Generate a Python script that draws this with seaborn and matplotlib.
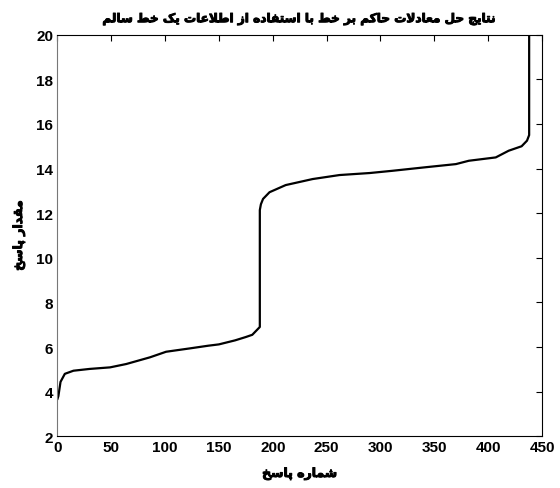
import pandas as pd
import seaborn as sns
import matplotlib.pyplot as plt
import matplotlib.patheffects as pe

# Breakpoints of the sorted response curve
resp_no = [0, 1, 3, 7, 15, 30, 49, 64, 86, 101, 123, 140, 150, 165, 175, 181, 185, 188,
           188, 189, 191, 197, 212, 237, 262, 290, 311, 342, 370, 382, 407, 419, 431, 436,
           438, 438]
resp_val = [3.65, 3.8, 4.44, 4.8, 4.94, 5.02, 5.09, 5.24, 5.54, 5.79, 5.94, 6.06, 6.12, 6.3, 6.45, 6.55, 6.75, 6.9,
            12.14, 12.4, 12.64, 12.94, 13.26, 13.53, 13.71, 13.8, 13.9, 14.06, 14.2, 14.35, 14.5, 14.8, 15.0, 15.25,
            15.5, 22.0]

x_ticks = [0, 50, 100, 150, 200, 250, 300, 350, 400, 450]
y_ticks = [2, 4, 6, 8, 10, 12, 14, 16, 18, 20]

title_text = "نتایج حل معادلات حاکم بر خط با استفاده از اطلاعات یک خط سالم"
xlabel_text = "شماره پاسخ"
ylabel_text = "مقدار پاسخ"

# matplotlib has no Arabic shaping, so pick presentation forms by hand
# forms: (isolated, final, initial, medial); right-joining letters only have two
FORMS = {
    "ا": (0xFE8D, 0xFE8E), "د": (0xFEA9, 0xFEAA), "ر": (0xFEAD, 0xFEAE), "ز": (0xFEAF, 0xFEB0),
    "ب": (0xFE8F, 0xFE90, 0xFE91, 0xFE92), "پ": (0xFB56, 0xFB57, 0xFB58, 0xFB59),
    "ت": (0xFE95, 0xFE96, 0xFE97, 0xFE98), "ج": (0xFE9D, 0xFE9E, 0xFE9F, 0xFEA0),
    "ح": (0xFEA1, 0xFEA2, 0xFEA3, 0xFEA4), "خ": (0xFEA5, 0xFEA6, 0xFEA7, 0xFEA8),
    "س": (0xFEB1, 0xFEB2, 0xFEB3, 0xFEB4), "ش": (0xFEB5, 0xFEB6, 0xFEB7, 0xFEB8),
    "ط": (0xFEC1, 0xFEC2, 0xFEC3, 0xFEC4), "ع": (0xFEC9, 0xFECA, 0xFECB, 0xFECC),
    "ف": (0xFED1, 0xFED2, 0xFED3, 0xFED4), "ق": (0xFED5, 0xFED6, 0xFED7, 0xFED8),
    "ک": (0xFB8E, 0xFB8F, 0xFB90, 0xFB91), "ل": (0xFEDD, 0xFEDE, 0xFEDF, 0xFEE0),
    "م": (0xFEE1, 0xFEE2, 0xFEE3, 0xFEE4), "ن": (0xFEE5, 0xFEE6, 0xFEE7, 0xFEE8),
    "ه": (0xFEE9, 0xFEEA, 0xFEEB, 0xFEEC), "ی": (0xFBFC, 0xFBFD, 0xFBFE, 0xFBFF),
}


def dual(c):
    return c in FORMS and len(FORMS[c]) == 4


def shape(text):
    out = []
    i = 0
    while i < len(text):
        c = text[i]
        prev = text[i - 1] if i > 0 else " "
        joins_prev = dual(prev) and c in FORMS
        if c == "ل" and i + 1 < len(text) and text[i + 1] == "ا":
            out.append(chr(0xFEFC if joins_prev else 0xFEFB))
            i += 2
            continue
        if c not in FORMS:
            out.append(c)
            i += 1
            continue
        nxt = text[i + 1] if i + 1 < len(text) else " "
        joins_next = dual(c) and nxt in FORMS
        f = FORMS[c]
        if joins_prev and joins_next:
            out.append(chr(f[3]))
        elif joins_prev:
            out.append(chr(f[1]))
        elif joins_next:
            out.append(chr(f[2]))
        else:
            out.append(chr(f[0]))
        i += 1
    return "".join(reversed(out))


sns.set_style("white")
plt.rcParams["font.family"] = ["Liberation Sans", "DejaVu Sans"]
plt.rcParams["font.weight"] = "bold"

df = pd.DataFrame({"n": resp_no, "v": resp_val})

fig = plt.figure(figsize=(5.6, 4.89), dpi=100)
ax = fig.add_axes([0.1023, 0.1057, 0.8657, 0.8213])
sns.lineplot(data=df, x="n", y="v", sort=False, estimator=None, errorbar=None,
             color="black", linewidth=1.6, ax=ax)

ax.set_xlim(0, 450)
ax.set_ylim(2, 20)
ax.set_xticks(x_ticks)
ax.set_yticks(y_ticks)
ax.tick_params(direction="in", length=4, width=0.8, top=True, right=True,
               labelsize=11, pad=3, colors="black")
for lab in ax.get_xticklabels() + ax.get_yticklabels():
    lab.set_fontweight("bold")
for s in ax.spines.values():
    s.set_color("black")
    s.set_linewidth(0.8)
ax.spines["left"].set_color("#777777")

# the Arabic glyphs have no bold cut, so thicken them with a thin stroke
heavy = [pe.withStroke(linewidth=0.7, foreground="black")]
t = ax.set_title(shape(title_text), fontsize=8.7, fontweight="bold", family="DejaVu Sans", pad=9)
xl = ax.set_xlabel(shape(xlabel_text), fontsize=9, fontweight="bold", family="DejaVu Sans", labelpad=9)
yl = ax.set_ylabel(shape(ylabel_text), fontsize=9, fontweight="bold", family="DejaVu Sans", labelpad=8)
for txt in (t, xl, yl):
    txt.set_color("black")
    txt.set_path_effects(heavy)

fig.savefig("out.png", dpi=100)
